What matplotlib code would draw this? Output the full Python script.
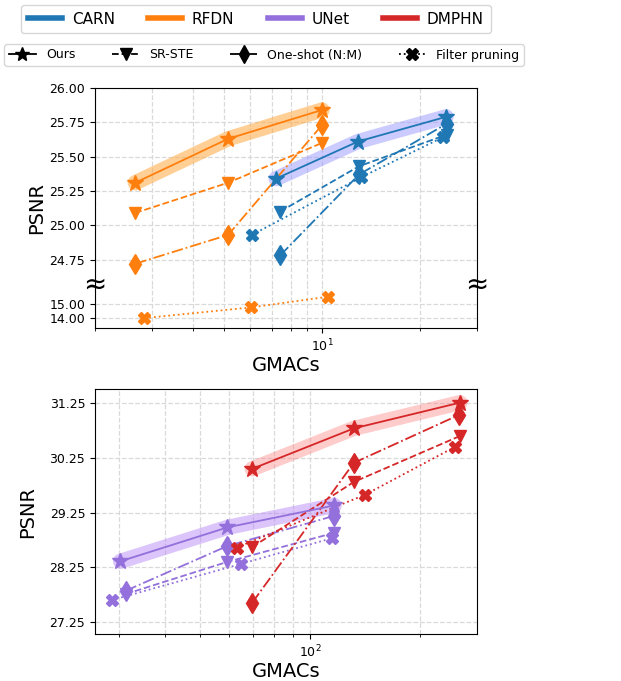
import matplotlib
matplotlib.use("Agg")
import matplotlib.pyplot as plt
from matplotlib.lines import Line2D
from matplotlib.ticker import NullFormatter

# ---------------- data ----------------
# Top panel (super-resolution)
carn_ours_x = [7.22, 12.9, 24.1]
carn_ours_y = [25.34, 25.61, 25.79]
carn_srste_x = [7.43, 13.0, 24.2]
carn_srste_y = [25.10, 25.43, 25.66]
carn_oneshot_x = [7.43, 13.0, 24.2]
carn_oneshot_y = [24.78, 25.37, 25.74]
carn_filter_x = [6.08, 13.2, 23.5]
carn_filter_y = [24.93, 25.35, 25.64]

rfdn_ours_x = [2.66, 5.14, 10.0]
rfdn_ours_y = [25.31, 25.63, 25.84]
rfdn_srste_x = [2.66, 5.14, 10.0]
rfdn_srste_y = [25.09, 25.31, 25.60]
rfdn_oneshot_x = [2.66, 5.14, 10.0]
rfdn_oneshot_y = [24.72, 24.93, 25.73]
rfdn_filter_x = [2.84, 6.05, 10.4]
rfdn_filter_y = [14.0, 14.76, 15.52]

# Bottom panel
unet_ours_x = [30.3, 59.5, 116.6]
unet_ours_y = [28.36, 28.98, 29.38]
unet_srste_x = [31.3, 59.5, 116.6]
unet_srste_y = [27.76, 28.35, 28.88]
unet_oneshot_x = [31.3, 59.5, 116.6]
unet_oneshot_y = [27.82, 28.64, 29.19]
unet_filter_x = [28.7, 64.6, 114.7]
unet_filter_y = [27.65, 28.31, 28.78]

dmphn_ours_x = [69.5, 132.0, 257.6]
dmphn_ours_y = [30.05, 30.79, 31.26]
dmphn_srste_x = [69.5, 132.0, 257.6]
dmphn_srste_y = [28.62, 29.81, 30.65]
dmphn_oneshot_x = [69.5, 132.0, 257.0]
dmphn_oneshot_y = [27.60, 30.16, 31.04]
dmphn_filter_x = [63.0, 142.0, 249.5]
dmphn_filter_y = [28.61, 29.58, 30.45]

model_names = ["CARN", "RFDN", "UNet", "DMPHN"]
method_names = ["Ours", "SR-STE", "One-shot (N:M)", "Filter pruning"]

top_yticks_hi = [24.75, 25.00, 25.25, 25.50, 25.75, 26.00]
top_yticks_lo = [14.00, 15.00]
bot_yticks = [27.25, 28.25, 29.25, 30.25, 31.25]

# ---------------- style ----------------
C_CARN = "#1f77b4"
C_RFDN = "#ff7f0e"
C_UNET = "#9370db"
C_DMPHN = "#d62728"
colors = [C_CARN, C_RFDN, C_UNET, C_DMPHN]

BAND_LW = 11
LW = 1.3
MS = 9
TICK_FS = 9
LABEL_FS = 14


def grid_style(ax):
    ax.grid(True, which="both", axis="x", linestyle="--", color="#d9d9d9", linewidth=0.9)
    ax.grid(True, which="major", axis="y", linestyle="--", color="#d9d9d9", linewidth=0.9)
    ax.set_axisbelow(True)


def plot_model(ax, col, band_col, band_alpha, ours, srste, oneshot, filt, z=3):
    if ours is not None:
        ax.plot(ours[0], ours[1], color=band_col, alpha=band_alpha, lw=BAND_LW,
                solid_capstyle="round", solid_joinstyle="round", zorder=2)
        ax.plot(ours[0], ours[1], color=col, lw=LW, ls="-", marker="*", ms=MS + 3, zorder=z + 1)
    if srste is not None:
        ax.plot(srste[0], srste[1], color=col, lw=LW, ls="--", marker="v", ms=MS, zorder=z)
    if oneshot is not None:
        ax.plot(oneshot[0], oneshot[1], color=col, lw=LW, ls="-.", marker="d", ms=MS + 1, zorder=z)
    if filt is not None:
        ax.plot(filt[0], filt[1], color=col, lw=LW, ls=":", marker="X", ms=MS, zorder=z)


W, H = 621, 681
fig = plt.figure(figsize=(W / 100, H / 100), dpi=100)


def rect(l, t, r, b):
    return [l / W, 1 - b / H, (r - l) / W, (b - t) / H]


# ---- top panel (broken axis) ----
ax_hi = fig.add_axes(rect(95, 88, 477, 285))
ax_lo = fig.add_axes(rect(95, 285, 477, 328), sharex=ax_hi)

for ax in (ax_hi, ax_lo):
    ax.set_xscale("log")
    grid_style(ax)

plot_model(ax_hi, C_RFDN, "#ffa940", 0.55,
           (rfdn_ours_x, rfdn_ours_y), (rfdn_srste_x, rfdn_srste_y),
           (rfdn_oneshot_x, rfdn_oneshot_y), None)
plot_model(ax_hi, C_CARN, "#9999ff", 0.5,
           (carn_ours_x, carn_ours_y), (carn_srste_x, carn_srste_y),
           (carn_oneshot_x, carn_oneshot_y), (carn_filter_x, carn_filter_y))
ax_lo.plot(rfdn_filter_x, rfdn_filter_y, color=C_RFDN, lw=LW, ls=":", marker="X", ms=MS)

ax_hi.set_xlim(2.0, 30.0)
ax_hi.set_ylim(24.565, 26.0)
ax_lo.set_ylim(13.29, 16.36)
ax_hi.set_yticks(top_yticks_hi)
ax_hi.set_yticklabels([f"{v:.2f}" for v in top_yticks_hi])
ax_lo.set_yticks(top_yticks_lo)
ax_lo.set_yticklabels([f"{v:.2f}" for v in top_yticks_lo])

ax_hi.spines["bottom"].set_visible(False)
ax_lo.spines["top"].set_visible(False)
ax_hi.tick_params(axis="x", which="both", bottom=False, labelbottom=False)
for ax in (ax_hi, ax_lo):
    ax.tick_params(axis="y", labelsize=TICK_FS)
    ax.xaxis.set_minor_formatter(NullFormatter())
ax_lo.tick_params(axis="x", labelsize=TICK_FS)
ax_lo.set_xlabel("GMACs", fontsize=LABEL_FS, labelpad=1)
fig.text(37 / W, 1 - 208 / H, "PSNR", rotation=90, fontsize=LABEL_FS, ha="center", va="center")

# break marks
fig.text(95 / W, 1 - 285 / H, "≈", fontsize=20, ha="center", va="center")
fig.text(477 / W, 1 - 285 / H, "≈", fontsize=20, ha="center", va="center")

# ---- bottom panel ----
ax_b = fig.add_axes(rect(95, 389, 477, 634))
ax_b.set_xscale("log")
grid_style(ax_b)
plot_model(ax_b, C_UNET, "#b07ff5", 0.45,
           (unet_ours_x, unet_ours_y), (unet_srste_x, unet_srste_y),
           (unet_oneshot_x, unet_oneshot_y), (unet_filter_x, unet_filter_y))
plot_model(ax_b, C_DMPHN, "#ff8080", 0.4,
           (dmphn_ours_x, dmphn_ours_y), (dmphn_srste_x, dmphn_srste_y),
           (dmphn_oneshot_x, dmphn_oneshot_y), (dmphn_filter_x, dmphn_filter_y))
ax_b.set_xlim(25.8, 287.0)
ax_b.set_ylim(27.03, 31.51)
ax_b.set_yticks(bot_yticks)
ax_b.set_yticklabels([f"{v:.2f}" for v in bot_yticks])
ax_b.xaxis.set_minor_formatter(NullFormatter())
ax_b.tick_params(axis="both", labelsize=TICK_FS)
ax_b.set_xlabel("GMACs", fontsize=LABEL_FS, labelpad=1)
ax_b.set_ylabel("PSNR", fontsize=LABEL_FS)
ax_b.yaxis.set_label_coords((37 - 95) / 382, 0.5)

# ---- legends ----
model_handles = [Line2D([0], [0], color=c, lw=4) for c in colors]
fig.legend(model_handles, model_names, loc="center",
           bbox_to_anchor=(256 / W, 1 - 19 / H), ncol=4, fontsize=11,
           handlelength=2.2, columnspacing=2.2, frameon=True,
           borderpad=0.45, handletextpad=0.65)

method_handles = [
    Line2D([0], [0], color="black", lw=LW, ls="-", marker="*", ms=MS + 1),
    Line2D([0], [0], color="black", lw=LW, ls="--", marker="v", ms=MS - 1),
    Line2D([0], [0], color="black", lw=LW, ls="-.", marker="d", ms=MS),
    Line2D([0], [0], color="black", lw=LW, ls=":", marker="X", ms=MS - 1),
]
fig.legend(method_handles, method_names, loc="center",
           bbox_to_anchor=(264 / W, 1 - 55 / H), ncol=4, fontsize=9,
           handlelength=2.2, columnspacing=2.9, frameon=True,
           borderpad=0.35, handletextpad=0.8)

fig.savefig("out.png", dpi=100)
